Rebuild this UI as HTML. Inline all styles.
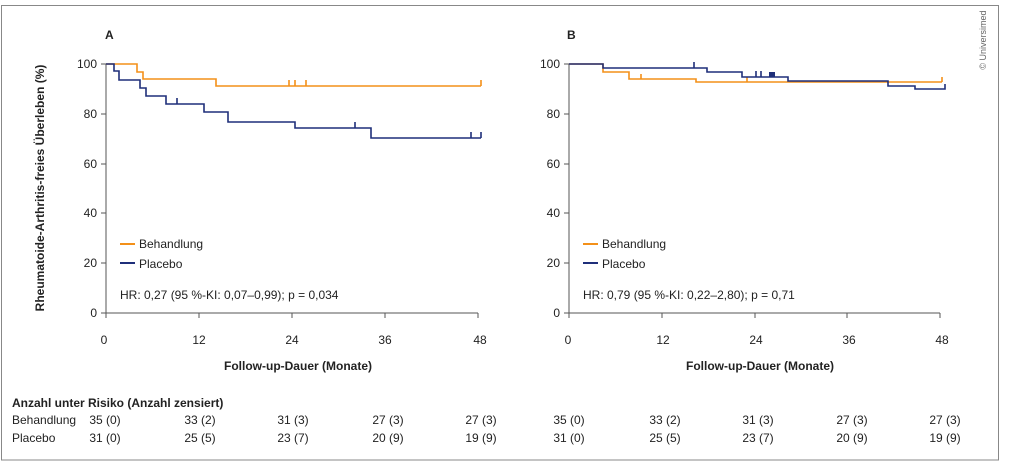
<!DOCTYPE html>
<html><head><meta charset="utf-8"><style>
body{margin:0;background:#fff}
svg{display:block;font-family:"Liberation Sans",sans-serif}
</style></head><body>
<svg width="1024" height="463" viewBox="0 0 1024 463">
<rect x="1.5" y="5.5" width="997" height="454.5" fill="none" stroke="#888" stroke-width="1"/>
<g font-size="12" fill="#222">
<text x="105" y="39" font-weight="bold" font-size="12">A</text>
<text x="567" y="39" font-weight="bold" font-size="12">B</text>
<text transform="translate(44,188) rotate(-90)" text-anchor="middle" font-weight="bold" font-size="12">Rheumatoide-Arthritis-freies Überleben (%)</text>
<text transform="translate(986,40) rotate(-90)" text-anchor="middle" font-size="9" fill="#666">© Universimed</text>
</g>
<!-- Axes -->
<g stroke="#555" stroke-width="1" fill="none">
<path d="M106,64 V313 H478 M101,64 H106 M101,114 H106 M101,164 H106 M101,213 H106 M101,263 H106 M101,313 H106 M199,313 V318 M292,313 V318 M385,313 V318 M478,313 V318 M106,313 V318"/>
<path d="M569,64 V313 H940 M564,64 H569 M564,114 H569 M564,164 H569 M564,213 H569 M564,263 H569 M564,313 H569 M569,313 V318 M662,313 V318 M755,313 V318 M847,313 V318 M940,313 V318"/>
</g>
<g font-size="12" fill="#222" text-anchor="end">
<text x="97" y="68">100</text><text x="97" y="118">80</text><text x="97" y="168">60</text><text x="97" y="217">40</text><text x="97" y="267">20</text><text x="97" y="317">0</text>
<text x="560" y="68">100</text><text x="560" y="118">80</text><text x="560" y="168">60</text><text x="560" y="217">40</text><text x="560" y="267">20</text><text x="560" y="317">0</text>
</g>
<g font-size="12" fill="#222" text-anchor="middle">
<text x="104" y="344">0</text><text x="199" y="344">12</text><text x="292" y="344">24</text><text x="385" y="344">36</text><text x="480" y="344">48</text>
<text x="568" y="344">0</text><text x="663" y="344">12</text><text x="756" y="344">24</text><text x="849" y="344">36</text><text x="942" y="344">48</text>
<text x="298" y="370" font-weight="bold">Follow-up-Dauer (Monate)</text>
<text x="760" y="370" font-weight="bold">Follow-up-Dauer (Monate)</text>
</g>
<!-- Curves A -->
<g fill="none" stroke-width="1.6">
<path stroke="#f39019" d="M106,64 H137 V72 H143 V79 H216 V86 H481 M289,80 V86 M295,80 V86 M306,80 V86 M481,80 V86"/>
<path stroke="#1f2f7a" d="M106,64 H114 V71 H119 V80 H140 V88 H146 V96 H166 V104 H204 V112 H228 V122 H295 V128 H371 V138 H481 M177,98 V104 M355,122 V128 M471,132 V138 M481,132 V138"/>
<path stroke="#f39019" d="M569,64 H603 V72 H629 V79 H696 V82 H942 M641,74 V79 M747,77 V82 M942,77 V82"/>
<path stroke="#1f2f7a" d="M569,64 H603 V68 H707 V72 H742 V77 H788 V81 H888 V86 H915 V89 H945 V84 M694,62 V68 M756,71 V77 M761,71 V77"/>
<rect x="769" y="72" width="6" height="5" fill="#1f2f7a" stroke="none"/>
</g>
<!-- Legends -->
<g stroke-width="2">
<line x1="120" y1="244" x2="135" y2="244" stroke="#f39019"/>
<line x1="120" y1="263" x2="135" y2="263" stroke="#1f2f7a"/>
<line x1="583" y1="244" x2="598" y2="244" stroke="#f39019"/>
<line x1="583" y1="263" x2="598" y2="263" stroke="#1f2f7a"/>
</g>
<g font-size="12" fill="#222">
<text x="139" y="248">Behandlung</text><text x="139" y="268">Placebo</text>
<text x="120" y="299">HR: 0,27 (95 %-KI: 0,07–0,99); p = 0,034</text>
<text x="602" y="248">Behandlung</text><text x="602" y="268">Placebo</text>
<text x="583" y="299">HR: 0,79 (95 %-KI: 0,22–2,80); p = 0,71</text>
<text x="12" y="407" font-weight="bold">Anzahl unter Risiko (Anzahl zensiert)</text>
<text x="12" y="424">Behandlung</text><text x="12" y="442">Placebo</text>
</g>
<g font-size="12" fill="#222" text-anchor="middle">
<text x="105" y="424">35 (0)</text><text x="200" y="424">33 (2)</text><text x="293" y="424">31 (3)</text><text x="388" y="424">27 (3)</text><text x="481" y="424">27 (3)</text>
<text x="105" y="442">31 (0)</text><text x="200" y="442">25 (5)</text><text x="293" y="442">23 (7)</text><text x="388" y="442">20 (9)</text><text x="481" y="442">19 (9)</text>
<text x="569" y="424">35 (0)</text><text x="665" y="424">33 (2)</text><text x="758" y="424">31 (3)</text><text x="852" y="424">27 (3)</text><text x="945" y="424">27 (3)</text>
<text x="569" y="442">31 (0)</text><text x="665" y="442">25 (5)</text><text x="758" y="442">23 (7)</text><text x="852" y="442">20 (9)</text><text x="945" y="442">19 (9)</text>
</g>
</svg>
</body></html>
